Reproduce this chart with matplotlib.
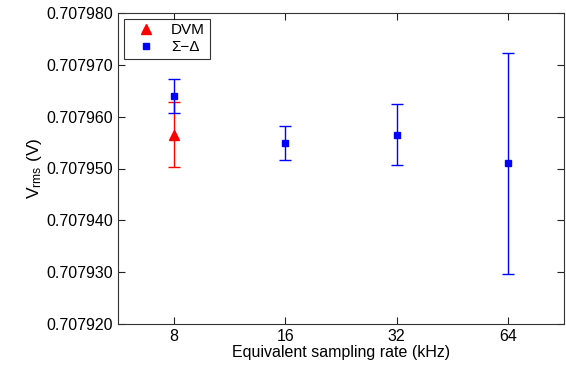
import matplotlib
matplotlib.use("Agg")
import matplotlib.pyplot as plt
import numpy as np

plt.rcParams['font.family'] = ['Liberation Sans', 'DejaVu Sans']
plt.rcParams['mathtext.fontset'] = 'custom'
plt.rcParams['mathtext.rm'] = 'Liberation Sans'
plt.rcParams['mathtext.it'] = 'Liberation Sans'

rates = ['8', '16', '32', '64']
dvm_value = [0.7079565]
dvm_err = [6.3e-6]
sd_values = [0.7079640, 0.7079549, 0.7079565, 0.7079510]
sd_err = [3.3e-6, 3.3e-6, 5.9e-6, 21.3e-6]
yticks = [0.707920, 0.707930, 0.707940, 0.707950, 0.707960, 0.707970, 0.707980]

fig = plt.figure(figsize=(5.66, 3.70), dpi=100)
ax = fig.add_axes([118/566, 1-324/370, (564-118)/566, (324-13)/370])

x = np.arange(1, len(rates)+1)
ax.errorbar(x[:1], dvm_value, yerr=dvm_err, fmt='^', color='red', ms=6.5,
            capsize=4, elinewidth=1, capthick=1, label='DVM')
ax.errorbar(x, sd_values, yerr=sd_err, fmt='s', color='blue', ms=5,
            capsize=4, elinewidth=1, capthick=1, label='Σ−Δ')

ax.set_xlim(0.5, 4.5)
ax.set_ylim(0.707920, 0.707980)
ax.set_xticks(x)
ax.set_xticklabels(rates)
ax.set_yticks(yticks)
ax.set_yticklabels([f'{v:.6f}' for v in yticks])
ax.tick_params(direction='in', top=True, right=True, labelsize=11.5, length=5, width=0.8, colors='#222222', labelcolor='black')
for s in ax.spines.values():
    s.set_color('#333333')
    s.set_linewidth(0.8)
ax.set_xlabel('Equivalent sampling rate (kHz)', fontsize=11.5, labelpad=1)
ax.set_ylabel(r'V$_{\mathrm{rms}}$ (V)', fontsize=12.5, labelpad=2)

handles, labels = ax.get_legend_handles_labels()
handles = [h[0] for h in handles]
leg = ax.legend(handles, labels, loc='upper left', bbox_to_anchor=(0.006, 0.992),
                fontsize=11, frameon=True, fancybox=False, borderpad=0.3,
                handletextpad=0.5, labelspacing=0.2, handlelength=2.3, borderaxespad=0.2)
leg.get_frame().set_edgecolor('black')
leg.get_frame().set_linewidth(0.8)

fig.savefig('out.png', dpi=100)
